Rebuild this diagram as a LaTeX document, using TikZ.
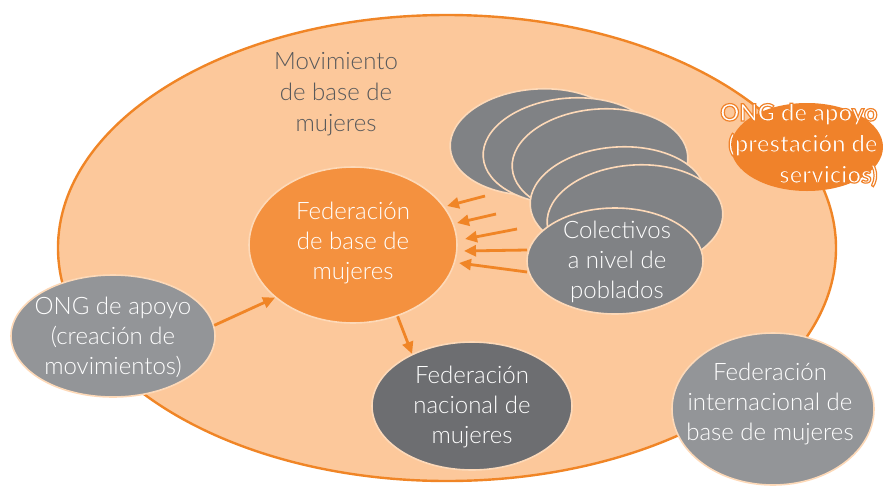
\documentclass[tikz,border=0pt]{standalone}
\usepackage{fontspec}
\setmainfont{Lato Light}
\newfontfamily\outlinefont{Lato Bold}[FakeBold=5]
\usetikzlibrary{shapes.geometric,arrows.meta}
\definecolor{peach}{HTML}{FCC89B}
\definecolor{peachline}{HTML}{FDD9B8}
\definecolor{borderorange}{HTML}{F08526}
\definecolor{fedorange}{HTML}{F4913F}
\definecolor{ongorange}{HTML}{F0822A}
\definecolor{greyA}{HTML}{939598}
\definecolor{greyB}{HTML}{6D6E71}
\definecolor{greyC}{HTML}{808285}
\definecolor{labelgrey}{HTML}{58595B}
\tikzset{
  bubble/.style={ellipse, line width=1.6pt, draw=peachline, inner sep=0pt},
  txt/.style={align=center, text=white, font=\fontsize{24}{30}\selectfont},
  arr/.style={draw=borderorange, line width=2.8pt, arrows={-Triangle[length=12pt,width=11pt]}},
}
\newcommand{\orangestroke}{\special{pdf:code 0.941 0.51 0.165 RG}}
\begin{document}
\begin{tikzpicture}[x=1pt,y=-1pt]
\useasboundingbox (0,0) rectangle (883,485);
% big ellipse
\node[ellipse, fill=peach, draw=borderorange, line width=2.4pt, minimum width=778pt, minimum height=466pt, inner sep=0pt] (mov) at (447,248) {};
\node[align=center, text=labelgrey, font=\fontsize{24}{31}\selectfont] (movlabel) at (336,94) {Movimiento\\de base de\\mujeres};
% ONG prestación
\node[ellipse, fill=ongorange, draw=none, minimum width=152pt, minimum height=88pt, inner sep=0pt] (ongp) at (807,147) {};
\node[anchor=east, align=right, text=white, font=\outlinefont\fontsize{23.8}{31}\selectfont] (ongptxt) at (881,145) {\orangestroke ONG de apoyo\\\orangestroke(prestación de\\\orangestroke servicios)};
% colectivos stack
\foreach \cx/\cy [count=\i] in {538/142,571/151,600/162,618/200,635/218}{
  \node[bubble, fill=greyC, minimum width=176pt, minimum height=106pt, rotate=4] (col\i) at (\cx,\cy) {};
}
\node[bubble, fill=greyC, minimum width=176pt, minimum height=106pt] (colf) at (615,261) {};
\node[txt] (colftxt) at (617,262) {Colectivos\\a nivel de\\poblados};
% federación de base
\node[bubble, fill=fedorange, minimum width=208pt, minimum height=156pt] (fed) at (353,245) {};
\node[txt] (fedtxt) at (353,243) {Federación\\de base de\\mujeres};
% ONG creación
\node[bubble, fill=greyA, minimum width=204pt, minimum height=122pt] (ongc) at (113,336) {};
\node[txt] (ongctxt) at (113,337) {ONG de apoyo\\(creación de\\movimientos)};
% federación nacional
\node[bubble, fill=greyB, minimum width=200pt, minimum height=128pt] (fedn) at (472,406) {};
\node[txt] (fedntxt) at (472,407) {Federación\\nacional de\\mujeres};
% federación internacional
\node[bubble, fill=greyA, minimum width=202pt, minimum height=152pt] (fedi) at (773,409) {};
\node[txt] (feditxt) at (770,404) {Federación\\internacional de\\base de mujeres};
% arrows
\coordinate (s1) at (485,196); \coordinate (t1) at (447,206);
\coordinate (s2) at (496,214); \coordinate (t2) at (457,223);
\coordinate (s3) at (517,229); \coordinate (t3) at (465,239);
\coordinate (s4) at (527,250); \coordinate (t4) at (464,251);
\coordinate (s5) at (527,272); \coordinate (t5) at (459,263);
\foreach \i in {1,...,5}{ \draw[arr] (s\i) -- (t\i); }
\draw[arr] (ongc.6) -- (fed.214);
\draw[arr] (fed.302) -- (fedn.139);
\end{tikzpicture}
\end{document}
